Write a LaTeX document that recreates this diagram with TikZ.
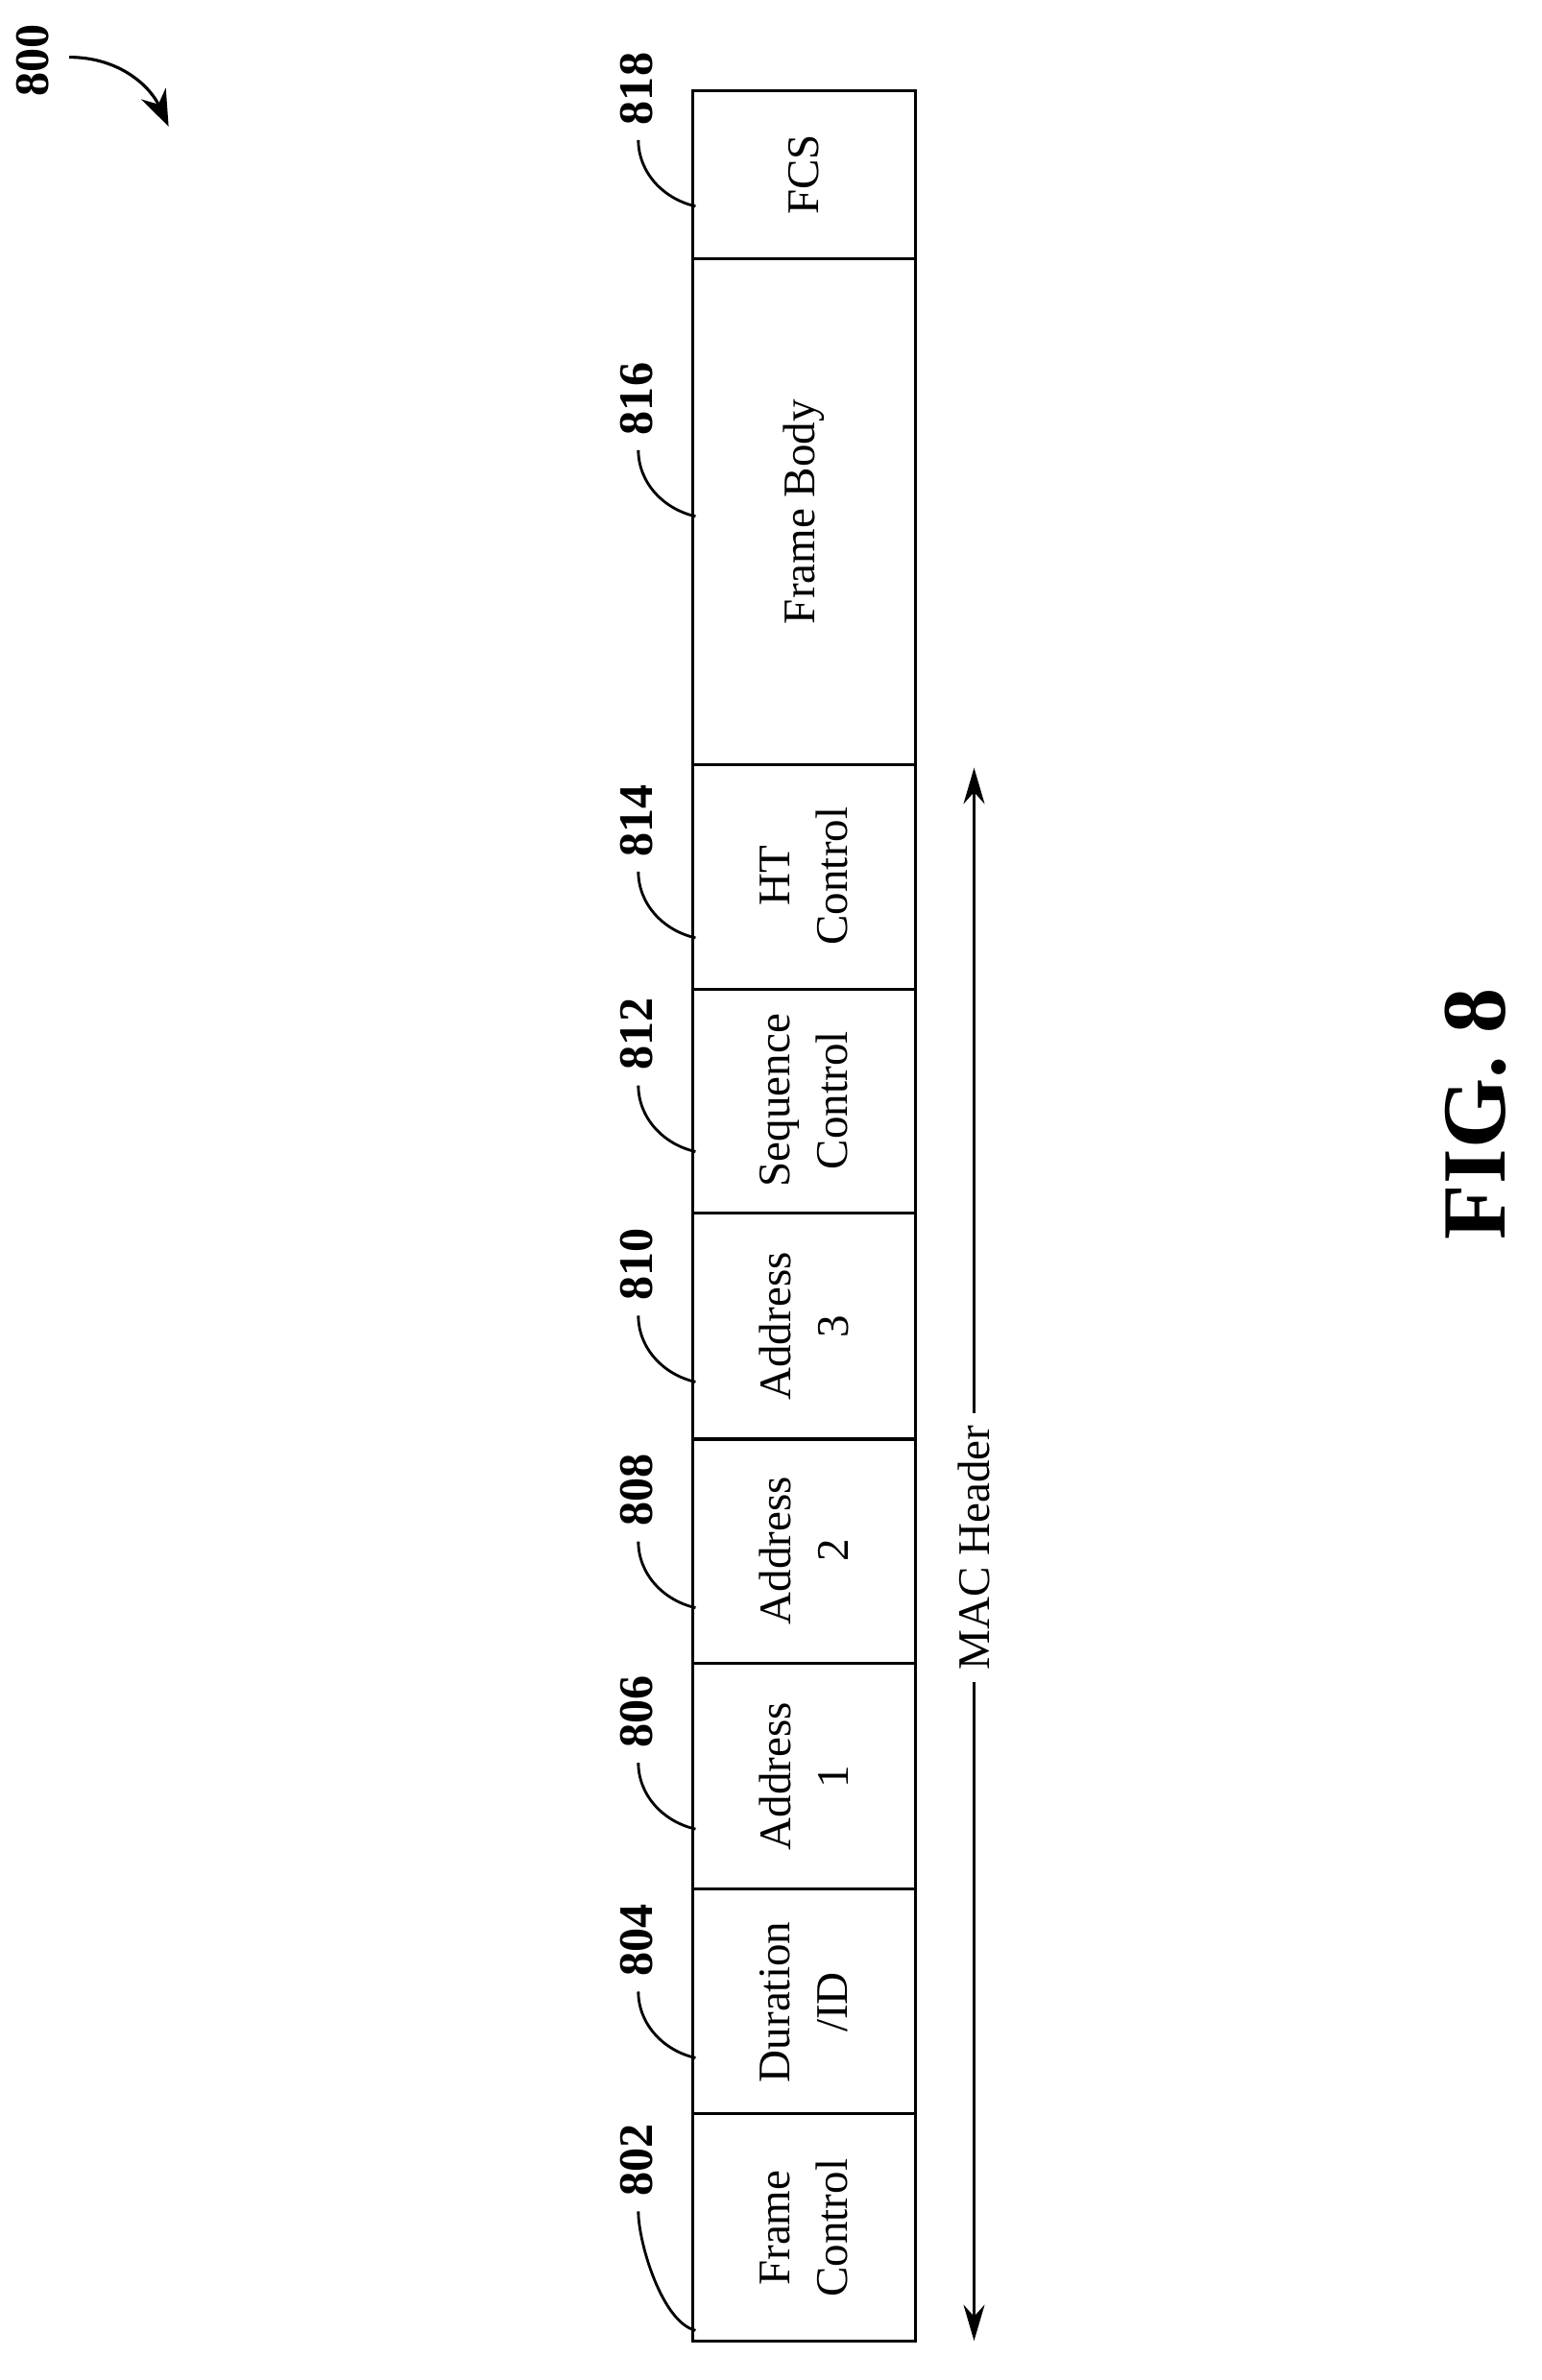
\documentclass[tikz,border=0pt]{standalone}
\usepackage{fontspec}
\setmainfont{Liberation Serif}
\usetikzlibrary{arrows.meta}
\begin{document}
\begin{tikzpicture}[x=0.5pt,y=-0.5pt,
  fld/.style={font=\fontsize{15}{19}\selectfont,align=center,rotate=90},
  lbl/.style={font=\fontsize{16}{18}\selectfont\bfseries,rotate=90},
  lead/.style={line width=0.9pt}]
\useasboundingbox (0,0) rectangle (1024,1581);
\draw[line width=1pt] (460,60) rectangle (608,1555);
\foreach \y in {172,508,657,806,956,1105,1255,1404}
  \draw[line width=1pt] (460,\y) -- (608,\y);
\node[fld] (f802) at (534,1480) {Frame\\Control};
\node[fld] (f804) at (534,1330) {Duration\\/ID};
\node[fld] (f806) at (534,1180) {Address\\1};
\node[fld] (f808) at (534,1030) {Address\\2};
\node[fld] (f810) at (534,881) {Address\\3};
\node[fld] (f812) at (534,731) {Sequence\\Control};
\node[fld] (f814) at (534,582) {HT\\Control};
\node[fld] (f816) at (534,340) {Frame Body};
\node[fld] (f818) at (534,116) {FCS};
\foreach \n/\e/\c in {802/1548/1435,804/1367/1289,806/1215/1137,808/1068/990,810/918/840,812/765/687,814/623/545,816/343/265,818/137/59}{
  \node[lbl] (l\n) at (423,\c) {\n};
  \coordinate (e\n) at (462,\e);
  \draw[lead] (424,\c+34) .. controls (424,\c+55) and (440,\e-5) .. (e\n);
}
\coordinate (a1) at (647,510);
\coordinate (a2) at (647,1555);
\draw[line width=0.9pt,{Stealth[length=12pt,width=7pt]}-{Stealth[length=12pt,width=7pt]}] (a1) -- (a2);
\node[fld,fill=white,inner sep=4pt] (mac) at (647,1028) {MAC Header};
\node[lbl] (l800) at (22,40) {800};
\coordinate (c1) at (46,38);
\coordinate (c2) at (112,84);
\draw[line width=1pt,-{Stealth[length=12pt,width=9pt]}] (c1) .. controls (80,38) and (100,58) .. (c2);
\node[rotate=90,font=\fontsize{30}{34}\selectfont\bfseries] (fig) at (980,740) {FIG. 8};
\end{tikzpicture}
\end{document}
